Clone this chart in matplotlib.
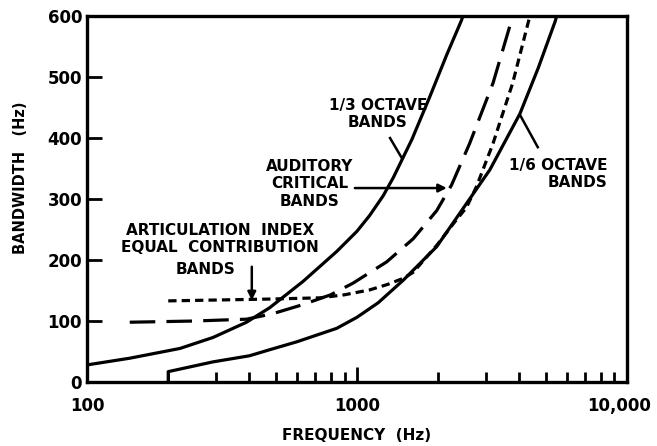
import numpy as np
import matplotlib
matplotlib.use("Agg")
import matplotlib.pyplot as plt
import matplotlib.transforms as mtransforms
from matplotlib.ticker import FixedLocator, LogLocator, NullFormatter

# values (frequency in Hz, bandwidth in Hz)
third_oct_f = [100, 144, 221, 293, 390, 476, 632, 842, 1000, 1115, 1250, 1364, 1600, 1864, 2150, 2441, 2470]
third_oct_bw = [28, 39, 55, 73, 98, 122, 165, 214, 247, 273, 305, 335, 398, 468, 536, 593, 600]

sixth_oct_f = [200, 200, 293, 400, 476, 600, 842, 1000, 1200, 1486, 1976, 2616, 3110, 4020, 4700, 5425, 5500]
sixth_oct_bw = [0, 17, 33, 43, 53, 66, 88, 106, 130, 167, 222, 300, 348, 440, 515, 591, 600]

critical_f = [144, 250, 390, 488, 632, 800, 967, 1290, 1618, 1976, 2243, 2616, 3194, 3729, 3780]
critical_bw = [98, 100, 103, 112, 127, 143, 162, 197, 235, 281, 323, 391, 490, 591, 600]

ai_f = [200, 476, 730, 900, 1115, 1300, 1486, 1618, 1976, 2300, 2545, 2772, 3194, 3777, 4322, 4380]
ai_bw = [133, 136, 138, 143, 151, 160, 170, 180, 224, 262, 286, 320, 391, 490, 591, 600]

x_ticks = [100, 1000, 10000]
x_ticklabels = ["100", "1000", "10,000"]
y_ticks = [0, 100, 200, 300, 400, 500, 600]

plt.rcParams['font.family'] = ['DejaVu Sans']
plt.rcParams['font.weight'] = 'bold'

fig = plt.figure(figsize=(6.57, 4.46), dpi=100)
ax = fig.add_axes([0.1324, 0.1435, 0.8216, 0.8205])

lw = 2.3
ax.plot(third_oct_f, third_oct_bw, color="black", lw=lw, solid_capstyle="butt")
ax.plot(sixth_oct_f, sixth_oct_bw, color="black", lw=lw, solid_capstyle="butt")
ax.plot(critical_f, critical_bw, color="black", lw=lw, dashes=(8, 3.5))
ax.plot(ai_f, ai_bw, color="black", lw=lw, dashes=(2.6, 1.6))

ax.set_xscale("log")
ax.set_xlim(100, 10000)
ax.set_ylim(0, 600)

ax.xaxis.set_major_locator(FixedLocator(x_ticks))
ax.set_xticklabels(x_ticklabels)
ax.xaxis.set_minor_locator(LogLocator(base=10, subs=np.arange(2, 10)))
ax.xaxis.set_minor_formatter(NullFormatter())
ax.set_yticks(y_ticks)

ax.tick_params(axis="both", which="both", direction="in", top=False, right=False,
               width=2, labelsize=12)
ax.tick_params(axis="x", which="major", length=11, pad=11)
ax.tick_params(axis="x", which="minor", length=7)
ax.tick_params(axis="y", which="major", length=11, pad=3.5)
for s in ax.spines.values():
    s.set_linewidth(2.4)

# pull the last x label in a little, like the reference
last = ax.get_xticklabels()[-1]
last.set_transform(last.get_transform() +
                   mtransforms.ScaledTranslation(-8 / 100, 0, fig.dpi_scale_trans))

ax.set_xlabel("FREQUENCY  (Hz)", fontsize=11, fontweight="bold", labelpad=9)
fig.text(21 / 657, 1 - 178 / 446, "BANDWIDTH   (Hz)", rotation=90, ha="center",
         va="center", fontsize=10.5, fontweight="bold")

tkw = dict(fontsize=11, fontweight="bold", linespacing=1.2)
line_kw = dict(color="black", lw=1.8)

ax.text(1196, 439, "1/3 OCTAVE\nBANDS", ha="center", va="center",
        multialignment="center", **tkw)
ax.plot([1327, 1468], [400, 367], **line_kw)

ax.text(670, 325, "AUDITORY\nCRITICAL\nBANDS", ha="center", va="center",
        multialignment="center", **tkw)
ax.annotate("", xy=(2154, 318), xytext=(983, 318),
            arrowprops=dict(arrowstyle="-|>", color="black", lw=1.8,
                            mutation_scale=12, shrinkA=0, shrinkB=0))

ax.text(8485, 341, "1/6 OCTAVE\nBANDS", ha="right", va="center",
        multialignment="right", **tkw)
ax.plot([4020, 4680], [438, 385], **line_kw)

ax.text(311, 234, "ARTICULATION  INDEX\nEQUAL  CONTRIBUTION", ha="center",
        va="center", multialignment="center", **tkw)
ax.text(276, 184, "BANDS", ha="center", va="center", **tkw)
ax.annotate("", xy=(408, 134), xytext=(408, 189),
            arrowprops=dict(arrowstyle="-|>", color="black", lw=1.8,
                            mutation_scale=12, shrinkA=0, shrinkB=0))

fig.savefig("out.png", dpi=100)
